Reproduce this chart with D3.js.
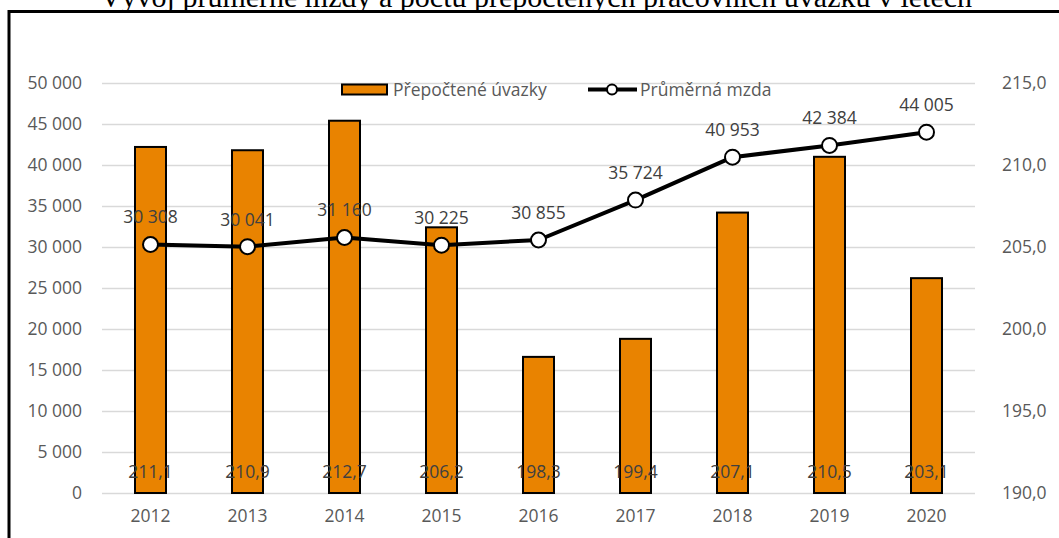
<!DOCTYPE html>
<html>
<head>
<meta charset="utf-8">
<script src="https://cdn.jsdelivr.net/npm/d3@7"></script>
<style>
  body { margin: 0; background: #fff; }
  text { font-family: "Open Sans", "Noto Sans", sans-serif; }
</style>
</head>
<body>
<div id="chart"></div>
<script>
// data
var years = ["2012", "2013", "2014", "2015", "2016", "2017", "2018", "2019", "2020"];
var uvazky = [211.1, 210.9, 212.7, 206.2, 198.3, 199.4, 207.1, 210.5, 203.1];
var mzda = [30308, 30041, 31160, 30225, 30855, 35724, 40953, 42384, 44005];
var leftTicks = [0, 5000, 10000, 15000, 20000, 25000, 30000, 35000, 40000, 45000, 50000];
var rightTicks = [190, 195, 200, 205, 210, 215];

var W = 1059, H = 538;
var margin = { top: 83, right: 84, bottom: 45, left: 102 },
  width = W - margin.left - margin.right,
  height = H - margin.top - margin.bottom;

var svg = d3
  .select("#chart")
  .append("svg")
  .attr("width", W)
  .attr("height", H);

// title (cut off at top in the original)
svg
  .append("text")
  .attr("x", 536)
  .attr("y", 7)
  .attr("text-anchor", "middle")
  .style("font-family", "'Liberation Serif', 'Times New Roman', serif")
  .style("font-size", "30px")
  .attr("fill", "#000")
  .text("Vývoj průměrné mzdy a počtu přepočtených pracovních úvazků v letech");

// frame
svg
  .append("path")
  .attr("d", "M9," + H + "V11.5H" + W)
  .attr("fill", "none")
  .attr("stroke", "#000")
  .attr("stroke-width", 3);

var g = svg
  .append("g")
  .attr("transform", "translate(" + margin.left + "," + margin.top + ")");

var x = d3.scaleBand().domain(years).range([0, width]);
var yL = d3.scaleLinear().domain([0, 50000]).range([height, 0]);
var yR = d3.scaleLinear().domain([190, 215]).range([height, 0]);

var fmtL = function (d) {
  return d3.format(",")(d).replace(/,/g, "\u00a0");
};
var fmtR = function (d) {
  return d3.format(".1f")(d).replace(".", ",");
};

var fs = "17.5px";

// gridlines
g.append("g")
  .selectAll("line")
  .data(leftTicks)
  .enter()
  .append("line")
  .attr("x1", 0)
  .attr("x2", width)
  .attr("y1", function (d) { return Math.round(yL(d)) + 0.5; })
  .attr("y2", function (d) { return Math.round(yL(d)) + 0.5; })
  .attr("stroke", "#d9d9d9")
  .attr("stroke-width", 1.5);

// left axis
var axL = g.append("g").call(d3.axisLeft(yL).tickValues(leftTicks).tickFormat(fmtL).tickSize(0).tickPadding(20));
axL.select(".domain").remove();
axL.selectAll("text").style("font-size", fs).attr("fill", "#595959").attr("font-family", null);

// right axis
var axR = g
  .append("g")
  .attr("transform", "translate(" + width + ",0)")
  .call(d3.axisRight(yR).tickValues(rightTicks).tickFormat(fmtR).tickSize(0).tickPadding(27));
axR.select(".domain").remove();
axR.selectAll("text").style("font-size", fs).attr("fill", "#595959").attr("font-family", null);

// bottom axis
var axB = g
  .append("g")
  .attr("transform", "translate(0," + height + ")")
  .call(d3.axisBottom(x).tickSize(0).tickPadding(17));
axB.select(".domain").remove();
axB.selectAll("text").style("font-size", fs).attr("fill", "#595959").attr("font-family", null);

// bars (right axis)
var barW = 31;
g.selectAll(".bar")
  .data(uvazky)
  .enter()
  .append("rect")
  .attr("class", "bar")
  .attr("x", function (d, i) { return x(years[i]) + x.bandwidth() / 2 - barW / 2; })
  .attr("y", function (d) { return yR(d); })
  .attr("width", barW)
  .attr("height", function (d) { return height - yR(d); })
  .attr("fill", "#e98300")
  .attr("stroke", "#000")
  .attr("stroke-width", 2);

// bar labels
g.selectAll(".barlab")
  .data(uvazky)
  .enter()
  .append("text")
  .attr("class", "barlab")
  .attr("x", function (d, i) { return x(years[i]) + x.bandwidth() / 2; })
  .attr("y", height - 15)
  .attr("text-anchor", "middle")
  .style("font-size", fs)
  .attr("fill", "#404040")
  .text(fmtR);

// line (left axis)
var line = d3
  .line()
  .x(function (d, i) { return x(years[i]) + x.bandwidth() / 2; })
  .y(function (d) { return yL(d); });

g.append("path")
  .datum(mzda)
  .attr("d", line)
  .attr("fill", "none")
  .attr("stroke", "#000")
  .attr("stroke-width", 4)
  .attr("stroke-linejoin", "round");

g.selectAll(".pt")
  .data(mzda)
  .enter()
  .append("circle")
  .attr("class", "pt")
  .attr("cx", function (d, i) { return x(years[i]) + x.bandwidth() / 2; })
  .attr("cy", function (d) { return yL(d); })
  .attr("r", 7.5)
  .attr("fill", "#fff")
  .attr("stroke", "#000")
  .attr("stroke-width", 2);

g.selectAll(".ptlab")
  .data(mzda)
  .enter()
  .append("text")
  .attr("class", "ptlab")
  .attr("x", function (d, i) { return x(years[i]) + x.bandwidth() / 2; })
  .attr("y", function (d) { return yL(d) - 21; })
  .attr("text-anchor", "middle")
  .style("font-size", fs)
  .attr("fill", "#404040")
  .text(fmtL);

// legend
var leg = svg.append("g");
leg.append("rect")
  .attr("x", 342).attr("y", 84.5)
  .attr("width", 45).attr("height", 10)
  .attr("fill", "#e98300").attr("stroke", "#000").attr("stroke-width", 2);
leg.append("text")
  .attr("x", 393).attr("y", 96)
  .style("font-size", fs).attr("fill", "#595959")
  .text("Přepočtené úvazky");
leg.append("line")
  .attr("x1", 588).attr("x2", 637).attr("y1", 89.5).attr("y2", 89.5)
  .attr("stroke", "#000").attr("stroke-width", 4);
leg.append("circle")
  .attr("cx", 612).attr("cy", 89.5).attr("r", 5)
  .attr("fill", "#fff").attr("stroke", "#000").attr("stroke-width", 2);
leg.append("text")
  .attr("x", 640).attr("y", 96)
  .style("font-size", fs).attr("fill", "#595959")
  .text("Průměrná mzda");
</script>
</body>
</html>
